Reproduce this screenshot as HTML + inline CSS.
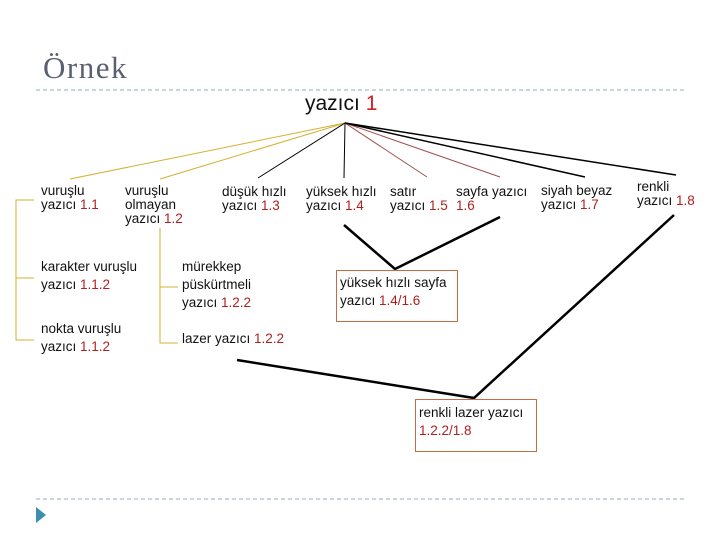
<!DOCTYPE html><html><head><meta charset="utf-8"><style>
body{margin:0;width:720px;height:540px;background:#fff;position:relative;overflow:hidden;font-family:"Liberation Sans",sans-serif;}
.t{position:absolute;font-size:13.5px;line-height:14px;color:#111;white-space:nowrap;}
.l{line-height:18px;}
.r{color:#b02020;}
.box{position:absolute;border:1px solid #c07040;}
</style></head><body>
<div style="position:absolute;left:43px;top:50px;font-family:'Liberation Serif',serif;font-size:31px;letter-spacing:1.5px;color:#5a6070;">Örnek</div>
<div class="t" style="left:305px;top:92px;font-size:21px;line-height:24px;">yazıcı <span style="color:#d02020">1</span></div>
<svg width="720" height="540" style="position:absolute;left:0;top:0">
<line x1="36" y1="90" x2="686" y2="90" stroke="#8fb0b8" stroke-dasharray="4,3"/>
<line x1="36" y1="499" x2="686" y2="499" stroke="#8fb0b8" stroke-dasharray="4,3"/>
<polygon points="36,507 46,515 36,523" fill="#3a8fb0"/>
<line x1="345" y1="123" x2="70" y2="179" stroke="#d4b030"/>
<line x1="345" y1="123" x2="160" y2="179" stroke="#d4b030"/>
<line x1="345" y1="123" x2="258" y2="178" stroke="#000"/>
<line x1="345" y1="123" x2="344" y2="178" stroke="#000"/>
<line x1="345" y1="123" x2="427" y2="177" stroke="#a05050"/>
<line x1="345" y1="123" x2="500" y2="177" stroke="#a05050"/>
<line x1="345" y1="123" x2="585" y2="177" stroke="#000" stroke-width="1.5"/>
<line x1="345" y1="123" x2="676" y2="175" stroke="#000" stroke-width="1.5"/>
<g stroke="#000" stroke-width="2.5" fill="none">
<polyline points="344,225 395,269 500,217"/>
<polyline points="237,360 474,398 674,215"/>
</g>
<g stroke="#d4b030" fill="none">
<polyline points="34,200 16,200 16,340 34,340"/>
<line x1="16" y1="278" x2="34" y2="278"/>
<polyline points="160,228 160,343 178,343"/>
<line x1="160" y1="287" x2="178" y2="287"/>
</g>
</svg>
<div class="t" style="left:41px;top:184px">vuruşlu<br>yazıcı <span class="r">1.1</span></div>
<div class="t" style="left:125px;top:184px">vuruşlu<br>olmayan<br>yazıcı <span class="r">1.2</span></div>
<div class="t" style="left:222px;top:185px">düşük hızlı<br>yazıcı <span class="r">1.3</span></div>
<div class="t" style="left:306px;top:185px">yüksek hızlı<br>yazıcı <span class="r">1.4</span></div>
<div class="t" style="left:390px;top:185px">satır<br>yazıcı <span class="r">1.5</span></div>
<div class="t" style="left:456px;top:185px">sayfa yazıcı<br><span class="r">1.6</span></div>
<div class="t" style="left:541px;top:184px">siyah beyaz<br>yazıcı <span class="r">1.7</span></div>
<div class="t" style="left:637px;top:180px">renkli<br>yazıcı <span class="r">1.8</span></div>
<div class="t l" style="left:41px;top:258px">karakter vuruşlu<br>yazıcı <span class="r">1.1.2</span></div>
<div class="t l" style="left:41px;top:320px">nokta vuruşlu<br>yazıcı <span class="r">1.1.2</span></div>
<div class="t l" style="left:182px;top:258px">mürekkep<br>püskürtmeli<br>yazıcı <span class="r">1.2.2</span></div>
<div class="t l" style="left:182px;top:330px">lazer yazıcı <span class="r">1.2.2</span></div>
<div class="box" style="left:336px;top:270px;width:120px;height:50px"></div>
<div class="t l" style="left:340px;top:274px">yüksek hızlı sayfa<br>yazıcı <span class="r">1.4/1.6</span></div>
<div class="box" style="left:415px;top:399px;width:120px;height:51px"></div>
<div class="t l" style="left:419px;top:404px">renkli lazer yazıcı<br><span class="r">1.2.2/1.8</span></div>
</body></html>
